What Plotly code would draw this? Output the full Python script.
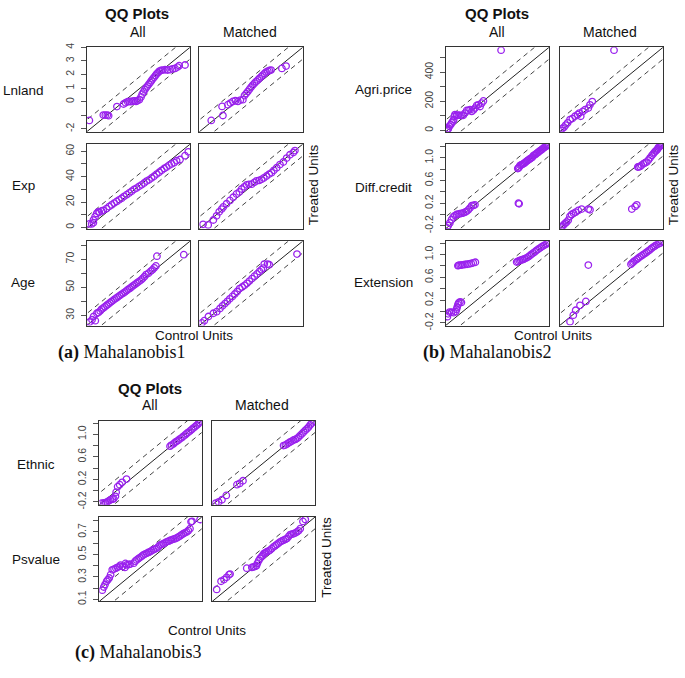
import plotly.graph_objects as go

W, H = 685, 678

# ---------------- data ----------------
# Panel (a) Mahalanobis1
lnland_all_x = [-2.06, -1.22, -1.1, -0.98, -0.9, -0.4, 0.0, 0.12, 0.25, 0.35, 0.45, 0.55, 0.65, 0.75, 0.85, 0.95,
                1.05, 1.12, 1.2, 1.28, 1.36, 1.44, 1.52, 1.6, 1.68, 1.76, 1.84, 1.92, 2.0, 2.08, 2.16, 2.25, 2.35,
                2.5, 2.65, 2.8, 2.95, 3.1, 3.25, 3.35, 3.7]
lnland_all_y = [-1.38, -0.99, -0.99, -0.99, -1.03, -0.36, -0.17, -0.08, 0.0, 0.02, 0.0, 0.04, 0.06, 0.02, 0.08, 0.15,
                0.35, 0.55, 0.72, 0.88, 1.02, 1.15, 1.28, 1.42, 1.55, 1.68, 1.8, 1.93, 2.05, 2.15, 2.25, 2.3, 2.33,
                2.35, 2.33, 2.36, 2.42, 2.45, 2.55, 2.65, 2.7]
lnland_matched_x = [-1.5, -0.8, -0.85, -0.5, -0.35, -0.2, -0.05, 0.1, 0.25, 0.4, 0.5, 0.6, 0.7, 0.8, 0.9, 1.0, 1.1,
                    1.2, 1.3, 1.4, 1.5, 1.6, 1.7, 1.8, 1.9, 2.0, 2.1, 2.75, 3.0]
lnland_matched_y = [-1.38, -1.02, -0.35, -0.22, -0.1, 0.02, 0.07, 0.02, 0.12, 0.15, 0.45, 0.6, 0.75, 0.92, 1.08,
                    1.22, 1.36, 1.48, 1.6, 1.72, 1.84, 1.96, 2.08, 2.18, 2.25, 2.3, 2.33, 2.45, 2.62]

exp_all_x = [0.8, 2.3, 3.4, 3.4, 4.5, 5.5, 6.5, 7.2, 8.7, 9.8, 11.9, 13.5, 15.1, 16.8, 18.4, 20.0, 21.6, 23.2, 24.8,
             26.4, 28.0, 29.6, 31.2, 32.8, 34.4, 36.0, 37.6, 39.2, 40.8, 42.4, 44.1, 45.7, 47.3, 48.9, 50.5, 52.1,
             53.7, 55.3, 56.9, 59.1, 62.3, 64.4]
exp_all_y = [2.8, 2.8, 3.8, 5.9, 8.5, 11.0, 12.3, 12.0, 13.0, 13.5, 14.9, 16.5, 17.8, 19.2, 20.5, 21.8, 23.0, 24.5,
             25.8, 27.2, 28.5, 30.0, 31.0, 32.4, 33.6, 35.0, 36.5, 37.5, 39.0, 40.3, 42.0, 43.5, 45.0, 46.4, 47.5,
             49.0, 50.0, 51.0, 52.5, 53.5, 56.5, 59.5]
exp_matched_x = [1.5, 4.8, 8.1, 10.2, 11.9, 13.5, 14.5, 16.6, 18.8, 20.9, 23.0, 24.8, 26.3, 28.0, 29.5, 31.0, 32.7,
                 34.5, 35.9, 37.5, 39.1, 40.5, 42.3, 44.0, 45.5, 47.0, 48.8, 50.9, 53.1, 55.2, 57.3, 59.5, 60.5]
exp_matched_y = [2.5, 2.0, 5.9, 9.2, 12.3, 14.5, 16.2, 18.7, 21.3, 23.8, 26.4, 28.0, 30.3, 32.0, 33.6, 34.0, 34.1,
                 35.5, 36.7, 37.0, 37.9, 39.0, 40.5, 42.0, 43.1, 45.0, 47.0, 49.5, 51.5, 54.6, 57.2, 59.0, 60.5]

age_all_x = [24.5, 25.9, 26.8, 27.8, 28.7, 29.6, 30.6, 31.5, 32.5, 33.4, 34.4, 35.3, 36.3, 37.2, 38.2, 39.1, 40.1,
             41.0, 42.0, 43.0, 44.0, 45.0, 45.9, 46.8, 47.8, 48.7, 49.7, 50.6, 51.6, 52.5, 53.5, 54.5, 55.4, 56.4,
             57.3, 58.7, 60.1, 61.0, 62.0, 63.0, 63.6, 79.2]
age_all_y = [25.3, 26.9, 29.2, 26.2, 31.5, 32.0, 33.1, 34.5, 35.3, 36.2, 37.2, 38.0, 39.0, 39.8, 40.7, 41.6, 42.4,
             43.2, 44.1, 45.0, 45.8, 46.6, 47.5, 48.4, 49.2, 50.0, 51.0, 51.8, 52.7, 53.5, 54.4, 55.3, 56.5, 57.6,
             59.0, 60.0, 61.5, 62.4, 63.8, 65.2, 72.1, 73.2]
age_matched_x = [24.3, 25.7, 28.1, 31.0, 32.9, 34.8, 36.3, 37.7, 39.1, 40.5, 42.0, 43.4, 44.8, 46.2, 47.7, 49.1,
                 50.5, 51.9, 53.4, 54.8, 56.3, 57.7, 58.8, 59.9, 60.5, 62.4, 63.4, 79.5]
age_matched_y = [24.6, 26.2, 29.2, 31.5, 32.6, 34.9, 36.8, 38.4, 40.0, 41.8, 43.5, 45.2, 47.0, 49.1, 50.2, 51.4,
                 52.8, 54.4, 56.2, 57.9, 59.5, 61.3, 62.5, 63.6, 66.5, 66.5, 66.0, 73.6]

# Panel (b) Mahalanobis2
agri_all_x = [-4, 2, 5, 11, 18.7, 24, 30, 35, 38.7, 42, 52, 61, 70, 80, 89, 98.6, 108, 117, 127, 136, 146, 155,
              164, 174, 183, 192, 201.6, 301]
agri_all_y = [0, 6, 13, 29, 40, 52, 63, 74, 97, 108, 103, 104, 103, 102, 103, 119, 137, 137, 142, 130, 140, 153,
              171, 175, 164, 187, 202, 551]
agri_matched_x = [-4, 5, 14.3, 23.7, 35, 48, 61, 76, 91, 100, 108, 119, 132, 151, 160, 173, 295]
agri_matched_y = [0, 13, 22, 36, 52, 74, 81, 97, 108, 119, 97, 130, 142, 153, 175, 198, 551]

diff_all_x = [-0.228, -0.213, -0.19, -0.165, -0.141, -0.117, -0.093, -0.07, -0.045, -0.02, 0.004, 0.03, 0.052,
              0.075, 0.1, 0.124, 0.15, 0.172, 0.799, 0.809, 0.79, 0.8, 0.81, 0.824, 0.84, 0.856, 0.872, 0.888,
              0.904, 0.92, 0.936, 0.952, 0.968, 0.984, 1.0, 1.016, 1.032, 1.048, 1.065, 1.081, 1.097, 1.113, 1.129,
              1.145, 1.161, 1.177, 1.193, 1.209, 1.225, 1.233]
diff_all_y = [-0.235, -0.194, -0.148, -0.09, -0.043, -0.02, 0.0, 0.005, 0.014, 0.02, 0.026, 0.04, 0.055, 0.08,
              0.113, 0.154, 0.16, 0.171, 0.2, 0.188, 0.81, 0.82, 0.84, 0.867, 0.875, 0.885, 0.896, 0.91, 0.925,
              0.942, 0.955, 0.97, 0.983, 0.995, 1.01, 1.04, 1.05, 1.065, 1.081, 1.095, 1.11, 1.128, 1.14, 1.155,
              1.174, 1.185, 1.2, 1.214, 1.225, 1.232]
diff_matched_x = [-0.223, -0.205, -0.189, -0.17, -0.151, -0.127, -0.102, -0.078, -0.05, -0.02, 0.018, 0.066,
                  0.163, 0.187, 0.79, 0.838, 0.862, 0.876, 0.89, 0.91, 0.93, 0.958, 0.98, 1.006, 1.03, 1.054, 1.079,
                  1.1, 1.117, 1.135, 1.151, 1.165, 1.175, 1.19, 1.205, 1.214, 1.225]
diff_matched_y = [-0.217, -0.2, -0.177, -0.155, -0.136, -0.101, -0.032, 0.0, 0.02, 0.04, 0.072, 0.096, 0.096,
                  0.084, 0.096, 0.142, 0.171, 0.838, 0.84, 0.849, 0.87, 0.896, 0.91, 0.925, 0.96, 1.0, 1.041, 1.07,
                  1.099, 1.12, 1.139, 1.16, 1.186, 1.2, 1.214, 1.22, 1.235]

ext_all_x = [-0.22, -0.21, -0.19, -0.16, -0.13, -0.1, -0.09, -0.08, -0.07, -0.06, -0.04, -0.02,
             -0.07, -0.06, -0.04, -0.02, 0.0, 0.03, 0.06, 0.09, 0.12, 0.15, 0.18,
             0.772, 0.79, 0.81, 0.83, 0.85, 0.867, 0.89, 0.915, 0.94, 0.963, 0.985, 1.01, 1.035, 1.058, 1.08,
             1.106, 1.13, 1.154, 1.178, 1.202, 1.225]
ext_all_y = [-0.09, -0.04, -0.01, -0.01, -0.02, 0.0, 0.04, 0.08, 0.12, 0.15, 0.17, 0.16,
             0.805, 0.81, 0.815, 0.815, 0.82, 0.825, 0.83, 0.835, 0.845, 0.855, 0.865,
             0.869, 0.88, 0.895, 0.903, 0.91, 0.914, 0.93, 0.943, 0.962, 0.983, 1.005, 1.029, 1.05, 1.074, 1.094,
             1.114, 1.135, 1.154, 1.172, 1.189, 1.211]
ext_matched_x = [-0.097, -0.05, -0.016, 0.046, 0.13, 0.165, 0.776, 0.793, 0.81, 0.83, 0.857, 0.88, 0.905, 0.93,
                 0.953, 0.977, 1.001, 1.025, 1.049, 1.072, 1.096, 1.12, 1.144, 1.168, 1.192, 1.216]
ext_matched_y = [-0.178, -0.063, 0.023, 0.109, 0.177, 0.816, 0.829, 0.85, 0.869, 0.89, 0.914, 0.935, 0.96, 0.98,
                 1.0, 1.02, 1.04, 1.063, 1.086, 1.11, 1.131, 1.15, 1.171, 1.186, 1.2, 1.229]

# Panel (c) Mahalanobis3
ethnic_all_x = [-0.216, -0.183, -0.16, -0.136, -0.11, -0.086, -0.06, -0.04, -0.015, -0.005, 0.017, 0.047, 0.082,
                0.146, 0.779, 0.8, 0.828, 0.85, 0.876, 0.9, 0.925, 0.95, 0.973, 1.0, 1.022, 1.045, 1.07, 1.095,
                1.119, 1.143, 1.167, 1.19, 1.206, 1.226]
ethnic_all_y = [-0.22, -0.217, -0.21, -0.2, -0.18, -0.16, -0.15, -0.142, -0.1, -0.026, 0.072, 0.107, 0.148, 0.206,
                0.79, 0.81, 0.83, 0.855, 0.875, 0.895, 0.92, 0.94, 0.965, 0.99, 1.015, 1.035, 1.06, 1.085, 1.11,
                1.135, 1.16, 1.185, 1.205, 1.235]
ethnic_matched_x = [-0.2, -0.159, -0.11, -0.047, 0.108, 0.147, 0.195, 0.784, 0.81, 0.835, 0.86, 0.881, 0.905,
                    0.93, 0.955, 0.978, 1.0, 1.025, 1.051, 1.075, 1.1, 1.124, 1.148, 1.172, 1.195, 1.221]
ethnic_matched_y = [-0.22, -0.2, -0.16, -0.084, 0.107, 0.13, 0.177, 0.8, 0.81, 0.83, 0.85, 0.866, 0.88, 0.9, 0.91,
                    0.924, 0.95, 0.98, 1.012, 1.04, 1.07, 1.099, 1.13, 1.169, 1.2, 1.235]

psvalue_all_x = [0.104, 0.115, 0.124, 0.136, 0.145, 0.155, 0.165, 0.177, 0.19, 0.204, 0.216, 0.229, 0.238, 0.253,
                 0.27, 0.274, 0.283, 0.298, 0.307, 0.335, 0.345, 0.356, 0.368, 0.38, 0.393, 0.405, 0.417, 0.429,
                 0.441, 0.454, 0.466, 0.478, 0.49, 0.503, 0.515, 0.527, 0.54, 0.552, 0.564, 0.576, 0.589, 0.601,
                 0.613, 0.625, 0.638, 0.65, 0.662, 0.674, 0.686, 0.698, 0.71, 0.723, 0.735, 0.747, 0.755, 0.762,
                 0.821]
psvalue_all_y = [0.182, 0.21, 0.232, 0.261, 0.275, 0.29, 0.32, 0.363, 0.37, 0.378, 0.385, 0.393, 0.405, 0.393,
                 0.384, 0.42, 0.407, 0.41, 0.413, 0.422, 0.44, 0.451, 0.462, 0.472, 0.484, 0.495, 0.503, 0.51,
                 0.517, 0.524, 0.533, 0.542, 0.548, 0.554, 0.568, 0.583, 0.59, 0.595, 0.603, 0.612, 0.618, 0.624,
                 0.63, 0.636, 0.64, 0.647, 0.656, 0.665, 0.675, 0.685, 0.692, 0.7, 0.712, 0.729, 0.79, 0.795, 0.811]
psvalue_matched_x = [0.114, 0.146, 0.168, 0.187, 0.204, 0.212, 0.334, 0.371, 0.385, 0.395, 0.405, 0.412, 0.422,
                     0.432, 0.444, 0.452, 0.461, 0.471, 0.481, 0.493, 0.505, 0.517, 0.53, 0.542, 0.554, 0.566,
                     0.579, 0.591, 0.603, 0.615, 0.628, 0.64, 0.652, 0.664, 0.676, 0.688, 0.701, 0.713, 0.725,
                     0.745, 0.762]
psvalue_matched_y = [0.188, 0.261, 0.276, 0.296, 0.32, 0.325, 0.378, 0.384, 0.39, 0.393, 0.4, 0.422, 0.445, 0.466,
                     0.481, 0.495, 0.51, 0.515, 0.524, 0.53, 0.539, 0.552, 0.568, 0.578, 0.589, 0.6, 0.612, 0.62,
                     0.627, 0.634, 0.641, 0.66, 0.677, 0.68, 0.685, 0.69, 0.7, 0.71, 0.729, 0.794, 0.811]

# axis ranges (same for x and y in a QQ plot) and tick labels
lnland_range = [-2.22, 4.0]
lnland_ticks = [-2, -1, 0, 1, 2, 3, 4]
lnland_labels = ["-2", "", "0", "1", "2", "3", "4"]
exp_range = [-0.9, 65.5]
exp_ticks = [0, 10, 20, 30, 40, 50, 60]
exp_labels = ["0", "", "20", "", "40", "", "60"]
age_range = [22.8, 82.8]
age_ticks = [30, 40, 50, 60, 70, 80]
age_labels = ["30", "", "50", "", "70", ""]
agri_range = [-10, 570]
agri_ticks = [0, 100, 200, 300, 400, 500]
agri_labels = ["0", "", "200", "", "400", ""]
unit_range = [-0.25, 1.24]
unit_ticks = [-0.2, 0.0, 0.2, 0.4, 0.6, 0.8, 1.0, 1.2]
unit_labels = ["-0.2", "", "0.2", "", "0.6", "", "1.0", ""]
psvalue_range = [0.082, 0.833]
psvalue_ticks = [0.1, 0.2, 0.3, 0.4, 0.5, 0.6, 0.7, 0.8]
psvalue_labels = ["0.1", "", "0.3", "", "0.5", "", "0.7", ""]

column_titles = ["All", "Matched"]
row_names = ["Lnland", "Exp", "Age", "Agri.price", "Diff.credit", "Extension", "Ethnic", "Psvalue"]
captions = [("(a)", "Mahalanobis1"), ("(b)", "Mahalanobis2"), ("(c)", "Mahalanobis3")]

# ---------------- layout geometry (pixels) ----------------
cols_px = {"a": [(86.7, 190.0), (199.3, 302.7)],
           "b": [(445.7, 549.0), (559.7, 663.0)],
           "c": [(99.3, 201.7), (212.3, 315.0)]}
rows_px = {"a": [(43, 128.7), (141.3, 227), (239.7, 325.3)],
           "b": [(43, 128.7), (141.3, 227), (239.7, 325.3)],
           "c": [(422, 507.3), (519.7, 605.3)]}

variables = [
    ("a", 0, "Lnland", lnland_range, lnland_ticks, lnland_labels,
     (lnland_all_x, lnland_all_y), (lnland_matched_x, lnland_matched_y)),
    ("a", 1, "Exp", exp_range, exp_ticks, exp_labels, (exp_all_x, exp_all_y), (exp_matched_x, exp_matched_y)),
    ("a", 2, "Age", age_range, age_ticks, age_labels, (age_all_x, age_all_y), (age_matched_x, age_matched_y)),
    ("b", 0, "Agri.price", agri_range, agri_ticks, agri_labels,
     (agri_all_x, agri_all_y), (agri_matched_x, agri_matched_y)),
    ("b", 1, "Diff.credit", unit_range, unit_ticks, unit_labels,
     (diff_all_x, diff_all_y), (diff_matched_x, diff_matched_y)),
    ("b", 2, "Extension", [-0.245, 1.235], unit_ticks, unit_labels,
     (ext_all_x, ext_all_y), (ext_matched_x, ext_matched_y)),
    ("c", 0, "Ethnic", unit_range, unit_ticks, unit_labels,
     (ethnic_all_x, ethnic_all_y), (ethnic_matched_x, ethnic_matched_y)),
    ("c", 1, "Psvalue", psvalue_range, psvalue_ticks, psvalue_labels,
     (psvalue_all_x, psvalue_all_y), (psvalue_matched_x, psvalue_matched_y)),
]

PURPLE = "#9a22ee"
FONT = "Liberation Sans, Arial, sans-serif"
BAND = 0.14  # dashed band half-width as share of the axis span


def px2x(px):
    return px / W


def px2y(py):
    return 1 - py / H


fig = go.Figure()
layout = {}
n = 0
for panel, row, name, rng, tv, tt, all_xy, matched_xy in variables:
    for col, (xs, ys) in enumerate([all_xy, matched_xy]):
        n += 1
        xa = "xaxis" if n == 1 else f"xaxis{n}"
        ya = "yaxis" if n == 1 else f"yaxis{n}"
        xref = "x" if n == 1 else f"x{n}"
        yref = "y" if n == 1 else f"y{n}"
        l, r = cols_px[panel][col]
        t, b = rows_px[panel][row]
        layout[xa] = dict(domain=[px2x(l), px2x(r)], range=rng, anchor=yref,
                          showgrid=False, zeroline=False, showticklabels=False, ticks="",
                          showline=True, mirror=True, linecolor="#333", linewidth=1)
        ya_dict = dict(domain=[px2y(b), px2y(t)], range=rng, anchor=xref,
                       showgrid=False, zeroline=False,
                       showline=True, mirror=True, linecolor="#333", linewidth=1)
        if col == 0:
            ya_dict.update(tickmode="array", tickvals=tv, ticktext=tt, ticks="outside", ticklen=5,
                           tickcolor="#555", tickwidth=1, tickangle=-90, showticklabels=True,
                           tickfont=dict(family=FONT, size=10.5, color="#444"), ticklabelstandoff=3)
        else:
            ya_dict.update(showticklabels=False, ticks="")
        layout[ya] = ya_dict

        span = rng[1] - rng[0]
        lx = [rng[0] - span, rng[1] + span]
        off = BAND * span
        # reference lines y = x and y = x +/- band
        fig.add_trace(go.Scatter(x=lx, y=lx, mode="lines", xaxis=xref, yaxis=yref,
                                 line=dict(color="#222", width=1), hoverinfo="skip", showlegend=False))
        for s in (1, -1):
            fig.add_trace(go.Scatter(x=lx, y=[v + s * off for v in lx], mode="lines", xaxis=xref, yaxis=yref,
                                     line=dict(color="#444", width=1, dash="5px,4px"),
                                     hoverinfo="skip", showlegend=False))
        fig.add_trace(go.Scatter(x=xs, y=ys, mode="markers", xaxis=xref, yaxis=yref, showlegend=False,
                                 marker=dict(symbol="circle-open", size=6.5, color=PURPLE,
                                             line=dict(width=1.3, color=PURPLE))))

annotations = []


def text(x, y, s, size=13, bold=False, angle=0, family=FONT, anchor="center"):
    annotations.append(dict(x=px2x(x), y=px2y(y), xref="paper", yref="paper", text=f"<b>{s}</b>" if bold else s,
                            showarrow=False, textangle=angle, xanchor=anchor, yanchor="middle",
                            font=dict(family=family, size=size, color="#111")))


# panel headers
for qx, qy, ax, mx, hy in [(137, 9, 138, 250, 27), (497, 9, 497, 610, 27), (150, 389, 150, 262, 406)]:
    text(qx, qy, "QQ Plots", size=15, bold=True)
    text(ax, hy, column_titles[0], size=14)
    text(mx, hy, column_titles[1], size=14)

# row labels
row_label_pos = [(23, 87), (23, 183), (23, 282), (383, 86), (383, 185), (383, 282), (36, 466), (36, 563)]
for nm, (rx, ry) in zip(row_names, row_label_pos):
    text(rx, ry, nm, size=13.5)

# axis titles
for cx, cy in [(194, 335), (553, 335), (207, 635)]:
    text(cx, cy, "Control Units", size=13.5)
for tx, ty in [(313, 183), (673, 183), (327, 561)]:
    text(tx, ty, "Treated Units", size=13.5, angle=-90)

# captions
for (lab, cap), (cx, cy) in zip(captions, [(56, 353), (421, 353), (73, 657)]):
    text(cx, cy, f"<b>{lab}</b> {cap}", size=18, family="Liberation Serif, Times New Roman, serif", anchor="left")

fig.update_layout(width=W, height=H, margin=dict(l=0, r=0, t=0, b=0), paper_bgcolor="white",
                  plot_bgcolor="white", showlegend=False, hovermode=False,
                  annotations=annotations, **layout)

# the page's default 8px body margin would push the figure past the window edge
fig.write_html("out.html", config={"displayModeBar": False, "staticPlot": True},
               post_script="document.body.style.margin='0px';")
